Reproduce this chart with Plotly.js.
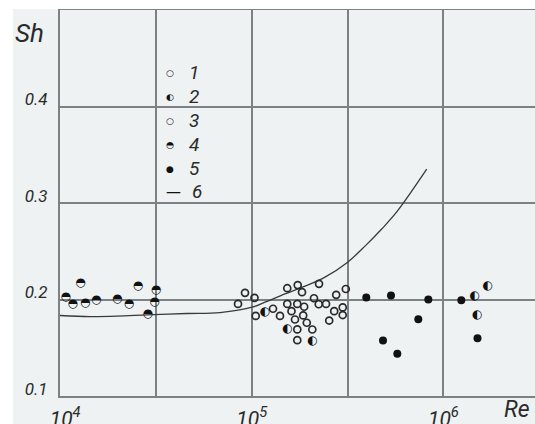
<!DOCTYPE html>
<html>
<head>
<meta charset="utf-8">
<script src="https://cdn.plot.ly/plotly-3.0.1.min.js"></script>
<style>html,body{margin:0;padding:0;background:#fff;}#chart{width:535px;height:424px;}</style>
</head>
<body>
<div id="chart"></div>
<script>
// ---- data ----
const reSeries1 = [84840, 92280, 103420, 104930, 129150, 140500];
const shSeries1 = [0.1954, 0.2069, 0.2017, 0.1830, 0.1904, 0.1830];

const reSeries3 = [153300, 173800, 183000, 224500, 153300, 172900, 187800, 161300, 185600, 168200, 193800, 172900, 207100, 172900, 211300, 223700, 244200, 275900, 309700, 269400, 253700, 298400, 298400];
const shSeries3 = [0.2117, 0.2149, 0.2076, 0.2162, 0.1954, 0.1954, 0.1925, 0.1879, 0.1835, 0.1793, 0.1759, 0.1690, 0.1689, 0.1579, 0.2013, 0.1951, 0.1954, 0.2048, 0.2109, 0.1879, 0.1782, 0.1918, 0.1839];

const reSeries2 = [117300, 153700, 207400, 1456600, 1704000, 1502800];
const shSeries2 = [0.1873, 0.1692, 0.1567, 0.2037, 0.2143, 0.1835];

const reSeries4 = [10711, 11647, 12793, 13537, 15468, 19903, 22900, 25520, 28680, 31680, 31120];
const shSeries4 = [0.2024, 0.1951, 0.2172, 0.1965, 0.1998, 0.2001, 0.1951, 0.2145, 0.1851, 0.2097, 0.1972];

const reSeries5 = [396000, 532900, 834200, 739700, 484100, 574900, 1240000, 1506000];
const shSeries5 = [0.2021, 0.2042, 0.2000, 0.1795, 0.1574, 0.1439, 0.1993, 0.1598];

const reCurve6 = [10000, 14340, 19760, 28340, 45800, 68320, 101570, 117300, 149200, 189700, 241200, 316800, 390000, 476600, 570800, 818300];
const shCurve6 = [0.1834, 0.1823, 0.1827, 0.1840, 0.1855, 0.1865, 0.1923, 0.1972, 0.2058, 0.2138, 0.2232, 0.2387, 0.2553, 0.2730, 0.2907, 0.3350];

const xTickVals = [1e4, 1e5, 1e6];
const xTickText = ['&nbsp;&nbsp;10<sup>4</sup>', '10<sup>5</sup>', '10<sup>6</sup>'];
const xHalfDecades = [Math.pow(10, 4.5), Math.pow(10, 5.5), Math.pow(10, 6.5)];
const yTickVals = [0.1, 0.2, 0.3, 0.4];
const yTickText = ['0.1', '0.2', '0.3', '0.4'];

const legendLabels = ['1', '2', '3', '4', '5', '6'];
const legendGlyphs = ['○', '◐', '○', '◓', '●', '—'];

// ---- styles ----
const FONT = "Roboto, 'Liberation Sans', sans-serif";
const INK = '#2a2a2a';
const GRID = '#7a8286';
const BG = '#eef2f3';
const GLYPH_FONT = "'DejaVu Sans', sans-serif";

const traces = [
  {x: reCurve6, y: shCurve6, mode: 'lines', line: {color: '#3a3a3a', width: 1.3, shape: 'spline', smoothing: 1}, showlegend: false, hoverinfo: 'skip'},
  {x: reSeries1, y: shSeries1, mode: 'markers', marker: {symbol: 'circle-open', size: 7, line: {width: 1.7, color: INK}, color: INK}, showlegend: false},
  {x: reSeries3, y: shSeries3, mode: 'markers', marker: {symbol: 'circle-open', size: 7, line: {width: 1.7, color: INK}, color: INK}, showlegend: false},
  {x: reSeries5, y: shSeries5, mode: 'markers', marker: {symbol: 'circle', size: 8, color: '#111'}, showlegend: false},
  {x: reSeries2, y: shSeries2, mode: 'text', text: reSeries2.map(() => '◐'), textposition: 'middle center', textfont: {family: GLYPH_FONT, size: 12, color: '#111'}, showlegend: false},
  {x: reSeries4, y: shSeries4, mode: 'text', text: reSeries4.map(() => '◓'), textposition: 'middle center', textfont: {family: GLYPH_FONT, size: 12, color: '#111'}, showlegend: false}
];

// layout helpers: pixel -> paper
const L = 60, R = 535, T = 10, B = 396;
const px = (x) => (x - L) / (R - L);
const py = (y) => 1 - (y - T) / (B - T);

const annotations = [
  {text: 'Sh', xref: 'paper', yref: 'paper', x: px(29), y: py(33), showarrow: false, xanchor: 'center', yanchor: 'middle', font: {family: FONT, size: 26, color: INK, style: 'italic'}},
  {text: 'Re', xref: 'paper', yref: 'paper', x: px(517), y: py(410), showarrow: false, xanchor: 'center', yanchor: 'middle', font: {family: FONT, size: 23, color: INK, style: 'italic'}}
];
const rowY = [72, 96, 120, 144, 168, 191];
legendLabels.forEach((lab, i) => {
  annotations.push({text: legendGlyphs[i], xref: 'paper', yref: 'paper', x: px(i === 5 ? 173 : 170), y: py(rowY[i] + 1), showarrow: false, xanchor: 'center', yanchor: 'middle', font: {family: GLYPH_FONT, size: i === 5 ? 15 : 9, color: '#111'}});
  annotations.push({text: lab, xref: 'paper', yref: 'paper', x: px(i === 5 ? 190 : 187), y: py(rowY[i]), showarrow: false, xanchor: 'left', yanchor: 'middle', font: {family: FONT, size: 19, color: INK, style: 'italic'}});
});

const layout = {
  width: 535, height: 424,
  margin: {l: L, r: 535 - R, t: T, b: 424 - B, pad: 0},
  paper_bgcolor: BG, plot_bgcolor: BG,
  showlegend: false,
  xaxis: {
    type: 'log', range: [4, 4 + (R - L) / 191.7],
    tickmode: 'array', tickvals: xTickVals, ticktext: xTickText,
    showgrid: true, gridcolor: GRID, gridwidth: 2,
    minor: {tickmode: 'array', tickvals: xHalfDecades, showgrid: true, gridcolor: GRID, gridwidth: 2, ticks: ''},
    showline: true, linecolor: GRID, linewidth: 2, mirror: true,
    ticks: '', zeroline: false,
    tickfont: {family: FONT, size: 21, color: INK, style: 'italic'},
    ticklabelstandoff: 3
  },
  yaxis: {
    range: [0.1, 0.5],
    tickmode: 'array', tickvals: yTickVals, ticktext: yTickText,
    showgrid: true, gridcolor: GRID, gridwidth: 2,
    showline: true, linecolor: GRID, linewidth: 2,
    ticks: '', zeroline: false,
    tickfont: {family: FONT, size: 17, color: INK, style: 'italic'},
    ticklabelshift: -7, ticklabelstandoff: 7
  },
  annotations: annotations,
  shapes: [
    {type: 'rect', xref: 'paper', yref: 'paper', x0: -0.2, x1: 1.1, y0: py(9), y1: py(-5), fillcolor: '#ffffff', line: {width: 0}, layer: 'above'},
    {type: 'rect', xref: 'paper', yref: 'paper', x0: px(-5), x1: px(13), y0: -0.2, y1: 1.1, fillcolor: '#ffffff', line: {width: 0}, layer: 'above'}
  ]
};

Plotly.newPlot('chart', traces, layout, {displayModeBar: false, staticPlot: true});
</script>
</body>
</html>
